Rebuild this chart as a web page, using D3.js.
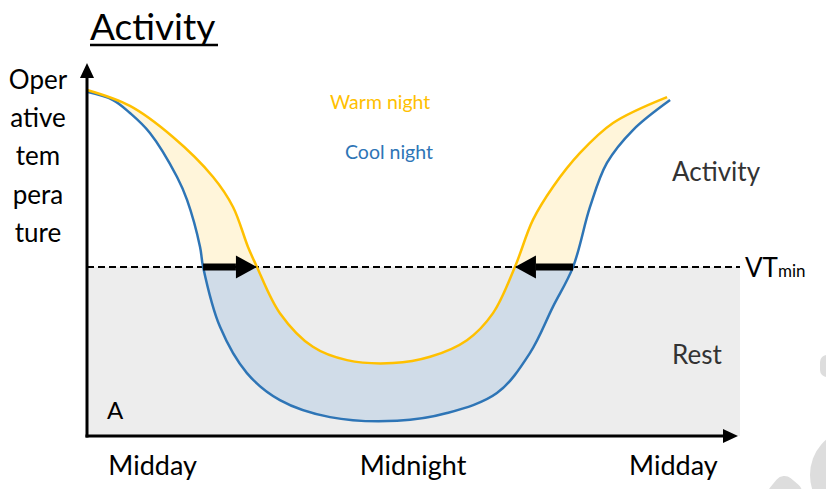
<!DOCTYPE html>
<html>
<head>
<meta charset="utf-8">
<script src="https://cdn.jsdelivr.net/npm/d3@7"></script>
<style>
  body { margin: 0; background: #fff; }
  svg text { font-family: Lato, "Open Sans", sans-serif; }
</style>
</head>
<body>
<script>
'use strict';

// curves: time in hours after midday, operative temperature (arbitrary units)
const warmHours = [-3.00, -1.02, 0.96, 2.81, 3.73, 4.42, 4.83, 5.89, 7.41, 8.98, 11.10, 12.81, 14.51, 15.71, 16.72, 17.55, 18.47, 19.72, 21.24, 23.73];
const warmTemp  = [9.35, 8.92, 8.08, 7.00, 6.19, 5.11, 4.57, 3.32, 2.41, 2.05, 1.97, 2.14, 2.59, 3.32, 4.57, 5.84, 6.73, 7.65, 8.46, 9.16];

const coolHours = [-3.00, -1.80, -1.02, -0.10, 1.15, 1.61, 2.21, 2.35, 3.13, 4.37, 5.89, 8.20, 11.29, 13.59, 15.89, 17.41, 18.47, 19.40, 20.18, 20.96, 22.16, 23.87];
const coolTemp  = [9.30, 9.08, 8.73, 8.19, 7.00, 6.38, 5.11, 4.57, 2.95, 1.70, 0.97, 0.51, 0.41, 0.62, 1.16, 2.24, 3.49, 4.57, 6.19, 7.38, 8.27, 9.08];

// voluntary minimum temperature threshold
const vtMin = 4.57;

// shift of the activity window (cool night -> warm night crossings)
const shiftFrom = [2.35, 19.40];
const shiftTo = [4.83, 16.72];

const timeTicks = [0, 12, 24];
const timeLabels = ["Midday", "Midnight", "Midday"];
const yLabelLines = ["Oper", "ative", "tem", "pera", "ture"];

const warmColor = "#FFC000";
const coolColor = "#2E75B6";

(function () {
  const width = 826, height = 489;

  const svg = d3.select("body")
    .append("svg")
    .attr("width", width)
    .attr("height", height);

  // scales
  const x = d3.scaleLinear().domain([-3, 27]).range([87, 738]);
  const y = d3.scaleLinear().domain([0, 10]).range([436, 66]);

  const warm = warmHours.map((h, i) => [h, warmTemp[i]]);
  const cool = coolHours.map((h, i) => [h, coolTemp[i]]);

  const line = d3.line()
    .x((d) => x(d[0]))
    .y((d) => y(d[1]))
    .curve(d3.curveCatmullRom.alpha(0.5));

  const yVT = y(vtMin);
  const plotRight = 740;

  // clip regions above / below the threshold
  const defs = svg.append("defs");
  defs.append("clipPath").attr("id", "above")
    .append("rect").attr("x", 0).attr("y", 0).attr("width", width).attr("height", yVT);
  defs.append("clipPath").attr("id", "below")
    .append("rect").attr("x", 0).attr("y", yVT).attr("width", width).attr("height", height - yVT);

  // rest zone
  svg.append("rect")
    .attr("x", x(-3))
    .attr("y", yVT)
    .attr("width", plotRight - x(-3))
    .attr("height", y(0) - yVT)
    .attr("fill", "#EDEDED");

  // band between the two curves
  const band = line(warm) + line(cool.slice().reverse()).replace(/^M/, "L") + "Z";
  svg.append("path").attr("d", band).attr("fill", "#FFF5DA").attr("clip-path", "url(#above)");
  svg.append("path").attr("d", band).attr("fill", "#D0DCE8").attr("clip-path", "url(#below)");

  // threshold line
  svg.append("line")
    .attr("x1", x(-3)).attr("x2", plotRight)
    .attr("y1", yVT).attr("y2", yVT)
    .attr("stroke", "#000")
    .attr("stroke-width", 2)
    .attr("stroke-dasharray", "7,4");

  // curves
  svg.append("path").datum(cool)
    .attr("d", line)
    .attr("fill", "none")
    .attr("stroke", coolColor)
    .attr("stroke-width", 2.5);

  svg.append("path").datum(warm)
    .attr("d", line)
    .attr("fill", "none")
    .attr("stroke", warmColor)
    .attr("stroke-width", 2.5);

  // shift arrows
  shiftFrom.forEach((from, i) => {
    const x0 = x(from), x1 = x(shiftTo[i]);
    const dir = x1 > x0 ? 1 : -1;
    const headLen = 21, headHalf = 11.5;
    svg.append("line")
      .attr("x1", x0).attr("x2", x1 - dir * headLen)
      .attr("y1", yVT).attr("y2", yVT)
      .attr("stroke", "#000")
      .attr("stroke-width", 7);
    svg.append("path")
      .attr("d", `M${x1},${yVT}L${x1 - dir * headLen},${yVT - headHalf}L${x1 - dir * headLen},${yVT + headHalf}Z`)
      .attr("fill", "#000");
  });

  // x axis (labels only, no ticks)
  const xAxis = d3.axisBottom(x)
    .tickValues(timeTicks)
    .tickFormat((d, i) => timeLabels[i])
    .tickSize(0)
    .tickPadding(20);
  const gx = svg.append("g")
    .attr("transform", `translate(0,${y(0)})`)
    .call(xAxis);
  gx.select(".domain").remove();
  gx.selectAll("text")
    .attr("font-family", "Lato, sans-serif")
    .style("font-size", "27px")
    .attr("fill", "#000");

  // axis lines with arrow heads
  const xTip = 738;
  svg.append("line")
    .attr("x1", x(-3) - 1.5).attr("x2", xTip - 12)
    .attr("y1", y(0)).attr("y2", y(0))
    .attr("stroke", "#000").attr("stroke-width", 3);
  svg.append("path")
    .attr("d", `M${xTip},${y(0)}L${xTip - 15},${y(0) - 7}L${xTip - 15},${y(0) + 7}Z`)
    .attr("fill", "#000");

  const yTip = 63;
  svg.append("line")
    .attr("x1", x(-3)).attr("x2", x(-3))
    .attr("y1", y(0) + 1.5).attr("y2", yTip + 12)
    .attr("stroke", "#000").attr("stroke-width", 3);
  svg.append("path")
    .attr("d", `M${x(-3)},${yTip}L${x(-3) - 7},${yTip + 15}L${x(-3) + 7},${yTip + 15}Z`)
    .attr("fill", "#000");

  // title
  svg.append("text")
    .attr("x", 90)
    .attr("y", 40)
    .style("font-size", "37px")
    .attr("fill", "#000")
    .text("Activity");
  svg.append("line")
    .attr("x1", 90).attr("x2", 218)
    .attr("y1", 45).attr("y2", 45)
    .attr("stroke", "#000").attr("stroke-width", 2.5);

  // y label, stacked syllables
  svg.append("g").selectAll("text")
    .data(yLabelLines)
    .enter()
    .append("text")
    .attr("x", 38)
    .attr("y", (d, i) => 89 + i * 38.2)
    .attr("text-anchor", "middle")
    .style("font-size", "26px")
    .attr("fill", "#000")
    .text((d) => d);

  // legend-ish labels
  svg.append("text")
    .attr("x", 330).attr("y", 109)
    .style("font-size", "19.5px")
    .attr("fill", warmColor)
    .text("Warm night");
  svg.append("text")
    .attr("x", 345).attr("y", 159)
    .style("font-size", "19.5px")
    .attr("fill", coolColor)
    .text("Cool night");

  // zone labels
  svg.append("text")
    .attr("x", 672).attr("y", 181)
    .style("font-size", "26px")
    .attr("fill", "#333")
    .text("Activity");
  svg.append("text")
    .attr("x", 672).attr("y", 364)
    .style("font-size", "26px")
    .attr("fill", "#333")
    .text("Rest");

  svg.append("text")
    .attr("x", 107).attr("y", 419)
    .style("font-size", "24px")
    .attr("fill", "#000")
    .text("A");

  // threshold label
  const vt = svg.append("text")
    .attr("x", 745).attr("y", yVT + 10)
    .style("font-size", "26px")
    .attr("fill", "#000");
  vt.append("tspan").text("VT");
  vt.append("tspan").style("font-size", "17px").text("min");

  // faint decorative shapes at the right edge
  svg.append("rect")
    .attr("x", 820).attr("y", 355).attr("width", 16).attr("height", 22).attr("rx", 7)
    .attr("fill", "#DDDDDD");
  svg.append("ellipse")
    .attr("cx", 850).attr("cy", 475).attr("rx", 40).attr("ry", 44)
    .attr("fill", "#DDDDDD");
  svg.append("rect")
    .attr("x", 770).attr("y", 478).attr("width", 30).attr("height", 30).attr("rx", 10)
    .attr("transform", "rotate(40,785,493)")
    .attr("fill", "#DDDDDD");
})();
</script>
</body>
</html>
